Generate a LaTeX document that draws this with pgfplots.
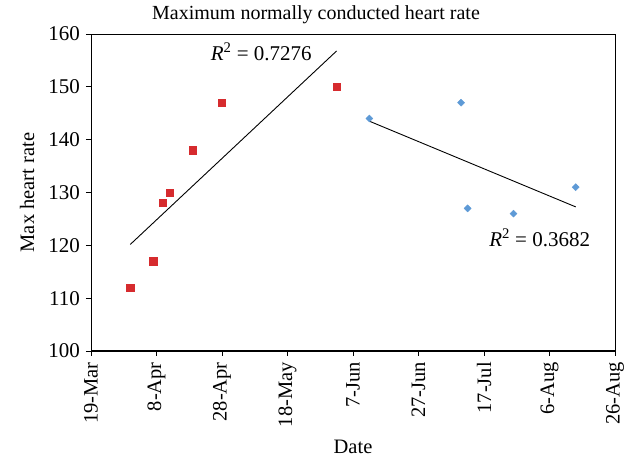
\documentclass[border=0pt]{standalone}
\usepackage{pgfplots}
\usepackage{pgfplotstable}
\pgfplotsset{compat=1.18}
\usepackage{fontspec}
\setmainfont{Liberation Serif}
\definecolor{myred}{RGB}{214,43,46}
\definecolor{myblue}{RGB}{94,154,214}

\pgfplotstableread{
X Y
12 112
19 117
22 128
24 130
31 138
40 147
75 150
}\redtab
\pgfplotstableread{
X Y
85 144
113 147
115 127
129 126
148 131
}\bluetab

\begin{document}
\begin{tikzpicture}
\begin{axis}[
  scale only axis, width=524pt, height=317pt,
  xmin=0, xmax=160, ymin=100, ymax=160,
  xtick={0,20,...,160},
  xticklabels={19-Mar,8-Apr,28-Apr,18-May,7-Jun,27-Jun,17-Jul,6-Aug,26-Aug},
  x tick label style={rotate=90, anchor=east, inner sep=0pt, xshift=-6pt, font=\fontsize{20.5}{24}\selectfont},
  y tick label style={anchor=east, inner sep=0pt, xshift=-6pt, font=\fontsize{21}{24}\selectfont},
  ytick={100,110,...,160},
  tick align=outside, tick pos=left,
  major tick length=5pt,
  tick style={black, line width=0.9pt},
  font=\fontsize{20.5}{24}\selectfont,
  /pgf/number format/assume math mode=true,
  title={Maximum normally conducted heart rate},
  title style={at={([xshift=-37pt,yshift=13pt]rel axis cs:0.5,1)}, anchor=center, inner sep=0pt, font=\fontsize{20}{24}\selectfont},
  xlabel={Date}, ylabel={Max heart rate},
  xlabel style={at={([yshift=-96pt]rel axis cs:0.5,0)}, anchor=center, inner sep=0pt},
  ylabel style={at={([xshift=-64pt]rel axis cs:0,0.5)}, anchor=center, rotate=0, inner sep=0pt},
  axis line style={black, line width=0.9pt},
  clip=false,
]
\coordinate (ll) at (rel axis cs:0,0);
\coordinate (ur) at (rel axis cs:1,1);
\addplot[only marks, mark=square*, mark size=3.6pt, color=myred] table[x=X,y=Y]{\redtab};
\addplot[only marks, mark=square*, mark size=2.5pt, mark options={rotate=45}, color=myblue] table[x=X,y=Y]{\bluetab};
\addplot[black, line width=0.9pt, no markers] table[x=X, y={create col/linear regression={y=Y}}]{\redtab};
\addplot[black, line width=0.9pt, no markers] table[x=X, y={create col/linear regression={y=Y}}]{\bluetab};
\draw[black, line width=1.8pt] (rel axis cs:0,0) -- (rel axis cs:1,0);
\node[font=\fontsize{21}{24}\selectfont] at (axis cs:52,156.6) {\textit{R}\textsuperscript{2} = 0.7276};
\node[font=\fontsize{21}{24}\selectfont] at (axis cs:137,121.4) {\textit{R}\textsuperscript{2} = 0.3682};
\end{axis}
\pgfresetboundingbox
\path ([shift={(-91pt,-110pt)}]ll) rectangle ([shift={(17pt,34pt)}]ur);
\end{tikzpicture}
\end{document}
